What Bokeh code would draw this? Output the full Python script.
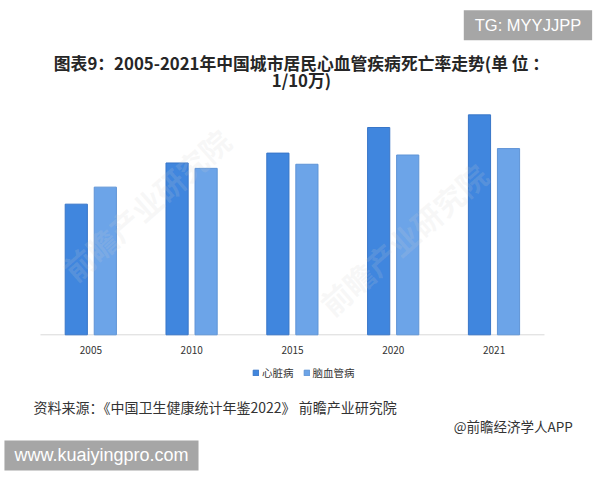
import math
from bokeh.plotting import figure
from bokeh.models import (Range1d, ColumnDataSource, Label, Legend, LegendItem)
from bokeh.core.properties import value
from bokeh.transform import dodge
from bokeh.embed import file_html
from bokeh.resources import INLINE

years = ["2005", "2010", "2015", "2020", "2021"]
heart = [98.22, 129.19, 136.61, 155.86, 165.37]
cerebro = [111.02, 125.15, 128.23, 135.18, 140.02]
series_names = ["心脏病", "脑血管病"]

title1 = "图表9：2005-2021年中国城市居民心血管疾病死亡率走势(单 位 ："
title2 = "1/10万)"
source_text = "资料来源：《中国卫生健康统计年鉴2022》 前瞻产业研究院"
credit_text = "@前瞻经济学人APP"
tg_text = "TG: MYYJJPP"
www_text = "www.kuaiyingpro.com"
watermark = "前瞻产业研究院"

CJK = "Noto Sans CJK SC"

pos = [i + 0.5 for i in range(len(years))]
src = ColumnDataSource(dict(x=pos, year=years, heart=heart, cerebro=cerebro,
                            ylab=[-11.1] * len(years)))

p = figure(width=600, height=480, x_range=Range1d(-0.3968, 5.5556), y_range=Range1d(-109.55, 251.35),
           output_backend="svg", toolbar_location=None, min_border=0)
p.outline_line_color = None
p.xgrid.grid_line_color = None
p.ygrid.grid_line_color = None
p.xaxis.visible = False
p.yaxis.visible = False
p.background_fill_color = "white"
p.border_fill_color = "white"

# baseline axis line across the category span
p.segment(x0=[0], y0=[0], x1=[len(years)], y1=[0], line_color="#d9d9d9", line_width=1)

r1 = p.vbar(x=dodge("x", -0.145), top="heart", width=0.22, source=src,
            fill_color="#4086de", line_color="#3876c8", line_width=1)
r2 = p.vbar(x=dodge("x", 0.143), top="cerebro", width=0.22, source=src,
            fill_color="#6ca4e8", line_color="#5f94d6", line_width=1)

p.text(x="x", y="ylab", text="year", source=src, text_font=value(CJK), text_font_size="10px",
       text_color="#333333", text_align="center", text_baseline="middle")

legend = Legend(items=[LegendItem(label=series_names[0], renderers=[r1]),
                       LegendItem(label=series_names[1], renderers=[r2])],
                orientation="horizontal", location=(252, 100))
legend.label_text_font = CJK
legend.label_text_font_size = "10.5px"
legend.label_text_color = "#333333"
legend.glyph_width = 7
legend.glyph_height = 7
legend.label_standoff = 3
legend.spacing = 9
legend.padding = 0
legend.margin = 0
legend.border_line_color = None
legend.background_fill_alpha = 0
p.add_layout(legend, "center")

def lab(x, y, text, size, align="center", color="#333333", bold=False, font=CJK, **kw):
    l = Label(x=x, y=y, text=text, text_font=font, text_font_size=size, text_align=align,
              text_baseline="middle", text_color=color,
              text_font_style="bold" if bold else "normal", **kw)
    p.add_layout(l)
    return l

# faint watermarks
lab(1.05, 98, watermark, "30px", color="#d0d0d0", text_alpha=0.17, angle=0.72, bold=True)
lab(3.6, 72, watermark, "30px", color="#d0d0d0", text_alpha=0.17, angle=0.72, bold=True)

lab(2.589, 204.7, title1, "16.8px", bold=True, color="#262626")
lab(2.589, 191.5, title2, "16.8px", bold=True, color="#262626")
lab(-0.069, -54.2, source_text, "14px", align="left", color="#333333")
lab(5.28, -68.9, credit_text, "13.5px", align="right", color="#333333")
lab(4.836, 232.8, tg_text, "16.5px", color="white", font="Liberation Sans",
    background_fill_color="#a6a6a6", padding=dict(left=11, right=11, top=6, bottom=6))
lab(0.605, -90.75, www_text, "18px", color="white", font="Liberation Sans",
    background_fill_color="#a6a6a6", padding=dict(left=10, right=10, top=5, bottom=5))

open("out.html", "w").write(file_html(p, INLINE))
